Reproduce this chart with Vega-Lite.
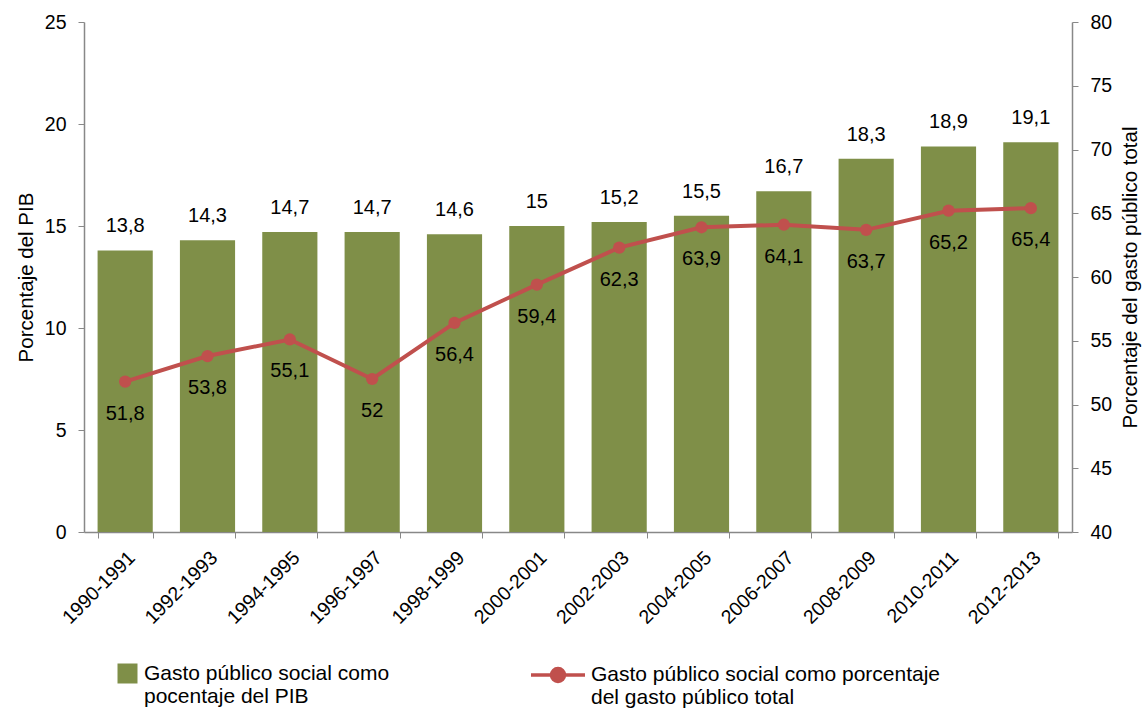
{
  "$schema": "https://vega.github.io/schema/vega-lite/v6.json",
  "width": 988,
  "height": 510,
  "autosize": {"type": "none"},
  "padding": {"left": 84, "top": 22, "right": 71, "bottom": 179},
  "config": {
    "locale": {"number": {"decimal": ",", "thousands": ".", "grouping": [3], "currency": ["", " €"]}},
    "view": {"stroke": null},
    "font": "Liberation Sans",
    "axis": {"grid": false, "domainColor": "#888888", "tickColor": "#888888", "labelColor": "#000000", "titleColor": "#000000", "labelFont": "Liberation Sans", "titleFont": "Liberation Sans", "titleFontWeight": "normal"},
    "legend": {"labelFont": "Liberation Sans", "labelColor": "#000000", "padding": 0}
  },
  "data": {
    "values": [
      {"periodo": "1990-1991", "pib": 13.8, "gasto": 51.8},
      {"periodo": "1992-1993", "pib": 14.3, "gasto": 53.8},
      {"periodo": "1994-1995", "pib": 14.7, "gasto": 55.1},
      {"periodo": "1996-1997", "pib": 14.7, "gasto": 52},
      {"periodo": "1998-1999", "pib": 14.6, "gasto": 56.4},
      {"periodo": "2000-2001", "pib": 15, "gasto": 59.4},
      {"periodo": "2002-2003", "pib": 15.2, "gasto": 62.3},
      {"periodo": "2004-2005", "pib": 15.5, "gasto": 63.9},
      {"periodo": "2006-2007", "pib": 16.7, "gasto": 64.1},
      {"periodo": "2008-2009", "pib": 18.3, "gasto": 63.7},
      {"periodo": "2010-2011", "pib": 18.9, "gasto": 65.2},
      {"periodo": "2012-2013", "pib": 19.1, "gasto": 65.4}
    ]
  },
  "encoding": {
    "x": {
      "field": "periodo", "type": "nominal", "sort": null,
      "scale": {"paddingInner": 0.33, "paddingOuter": 0.165},
      "axis": {"title": null, "labelAngle": -45, "labelFontSize": 19.5, "tickBand": "extent", "tickSize": 6, "labelPadding": 10, "domainWidth": 1.5}
    }
  },
  "layer": [
    {
      "encoding": {
        "y": {
          "field": "pib", "type": "quantitative",
          "scale": {"domain": [0, 25], "nice": false},
          "axis": {"title": "Porcentaje del PIB", "orient": "left", "values": [0, 5, 10, 15, 20, 25], "labelFontSize": 19.5, "titleFontSize": 20.5, "tickSize": 6, "labelPadding": 12, "titlePadding": 8, "domainWidth": 1.5}
        }
      },
      "layer": [
        {
          "mark": {"type": "bar"},
          "encoding": {
            "fill": {
              "datum": "Gasto público social como|pocentaje del PIB",
              "scale": {"range": ["#7F8F48"]},
              "legend": {"title": null, "orient": "none", "legendX": 33, "legendY": 641, "symbolType": "square", "symbolSize": 400, "symbolStrokeWidth": 0, "labelFontSize": 21, "labelOffset": 6, "labelExpr": "split(datum.label, '|')", "labelBaseline": "middle", "labelLimit": 500}
            }
          }
        },
        {
          "mark": {"type": "text", "baseline": "middle", "dy": -24, "fontSize": 20, "color": "#000000"},
          "encoding": {"text": {"field": "pib", "type": "quantitative", "format": ".1~f"}}
        }
      ]
    },
    {
      "encoding": {
        "y": {
          "field": "gasto", "type": "quantitative",
          "scale": {"domain": [40, 80], "nice": false},
          "axis": {"title": "Porcentaje del gasto público total", "orient": "right", "values": [40, 45, 50, 55, 60, 65, 70, 75, 80], "labelFontSize": 19.5, "titleFontSize": 20.5, "titleAngle": 270, "tickSize": 6, "labelPadding": 12, "titlePadding": 29, "domainWidth": 1.5}
        }
      },
      "layer": [
        {
          "mark": {"type": "line", "strokeWidth": 4},
          "encoding": {
            "stroke": {
              "datum": "Gasto público social como porcentaje|del gasto público total",
              "scale": {"range": ["#C0504D"]},
              "legend": {"title": null, "orient": "none", "legendX": 445, "legendY": 624, "symbolType": "M-1,0L1,0M-0.24,0A0.24,0.24,0,1,0,0.24,0A0.24,0.24,0,1,0,-0.24,0Z", "symbolSize": 2916, "symbolStrokeWidth": 3.5, "symbolFillColor": "#C0504D", "labelFontSize": 21, "labelOffset": 4, "labelExpr": "split(datum.label, '|')", "labelBaseline": "middle", "labelLimit": 500}
            }
          }
        },
        {
          "mark": {"type": "point", "filled": true, "size": 150, "opacity": 1, "color": "#C0504D"}
        },
        {
          "mark": {"type": "text", "baseline": "middle", "dy": 32, "fontSize": 20, "color": "#000000"},
          "encoding": {"text": {"field": "gasto", "type": "quantitative", "format": ".1~f"}}
        }
      ]
    }
  ],
  "resolve": {"scale": {"y": "independent", "fill": "independent", "stroke": "independent"}}
}
